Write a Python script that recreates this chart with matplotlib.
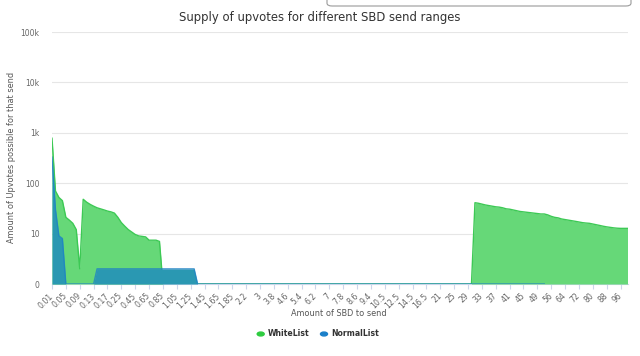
import numpy as np
import matplotlib
matplotlib.use("Agg")
from matplotlib import pyplot as plt
from matplotlib.patches import FancyBboxPatch


def seg(start, stop, step):
    vals = np.round(np.arange(start, stop + step / 2, step), 2)
    return ["%g" % v for v in vals]


# SBD send amounts (x categories), labels shown every 4th one
categories = (seg(0.01, 0.20, 0.01) + seg(0.25, 2.0, 0.05) + seg(2.2, 10.0, 0.2)
              + seg(10.5, 16.5, 0.5) + ["17.5", "18.5", "20"] + seg(21, 49, 1)
              + ["50", "52", "54"] + seg(56, 100, 2))

# upvotes possible per category
whitelist_head = [780, 70, 52, 45, 21, 18.5, 16, 12, 2, 48, 42, 38, 35, 32.5, 31, 29.5,
                  28, 27, 25.5, 21, 16.5, 14, 12, 10.7, 9.6, 9, 8.8, 8.6, 7.4, 7.4, 7.4,
                  7, 0]
whitelist_gap = [0] * 89
whitelist_tail = [41, 40, 38.5, 37, 36, 35, 34, 33.5, 32.5, 31, 30.5, 29.5, 28.5, 27.5,
                  27, 26.5, 26, 25.5, 25, 24.5, 24.5, 23.5, 22, 21, 20.5, 19.5, 19, 18.6,
                  18, 17.5, 17, 16.5, 16.2, 16, 15.5, 15, 14.5, 14, 13.6, 13.3, 13, 12.8,
                  12.7, 12.7, 12.7]
whitelist = whitelist_head + whitelist_gap + whitelist_tail

normallist = [330, 30, 9, 8] + [0] * 9 + [2] * 29 + [0] * 101

y_ticks = [0, 1, 2, 3, 4, 5]
y_labels = ["0", "10", "100", "1k", "10k", "100k"]

GREEN_FILL, GREEN_LINE = "#66d878", "#3dc955"
BLUE_FILL, BLUE_LINE = "#2a98b2", "#1f83c4"

plt.rcParams["font.family"] = ["DejaVu Sans"]

fig = plt.figure(figsize=(6.4, 3.56), dpi=100)
ax = fig.add_axes([52 / 640, 72 / 356, 575.5 / 640, 252 / 356])


def to_log(v):
    return np.log10(np.maximum(np.asarray(v, dtype=float), 1))


xw = np.arange(len(whitelist))
yw = to_log(whitelist)
ax.fill_between(xw, 0, yw, color=GREEN_FILL, lw=0, zorder=2)
ax.plot(xw, yw, color=GREEN_LINE, lw=1, zorder=3)

xn = np.arange(len(normallist))
yn = to_log(normallist)
ax.fill_between(xn, 0, yn, color=BLUE_FILL, lw=0, zorder=4)
ax.plot(xn, yn, color=BLUE_LINE, lw=1, zorder=5, alpha=0.8)

ax.set_xlim(0, len(categories) - 1)
ax.set_ylim(0, 5)

ax.set_yticks(y_ticks)
ax.set_yticklabels(y_labels, fontsize=5.5, color="#666666")
ax.tick_params(axis="y", length=0, pad=9)
ax.grid(axis="y", color="#e6e6e6", lw=0.8, zorder=0)

idx = np.arange(0, len(categories), 4)
ax.set_xticks(idx)
ax.set_xticklabels([categories[i] for i in idx], rotation=45, ha="right",
                   va="center", rotation_mode="anchor", fontsize=5.6, color="#666666")
ax.tick_params(axis="x", length=3.6, color="#ccd6eb", pad=4)

for s in ["top", "right", "left"]:
    ax.spines[s].set_visible(False)
ax.spines["bottom"].set_color("#ccd6eb")
ax.spines["bottom"].set_zorder(1)

fig.text(339 / 640, 1 - 314 / 356, "Amount of SBD to send", ha="center", va="center",
         fontsize=5.9, color="#555555")
fig.text(12 / 640, 1 - 157 / 356, "Amount of Upvotes possible for that send",
         ha="center", va="center", rotation=90, fontsize=5.9, color="#555555")

fig.text(0.5, 1 - 17 / 356, "Supply of upvotes for different SBD send ranges",
         ha="center", va="center", fontsize=8.4, color="#333333")

# legend
fig.patches.append(plt.Circle((260.7 / 640, 1 - 334 / 356), 3.5 / 640,
                              transform=fig.transFigure, color="#2ecc40", figure=fig))
fig.text(268 / 640, 1 - 334 / 356, "WhiteList", ha="left", va="center",
         fontsize=5.6, fontweight="bold", color="#333333")
fig.patches.append(plt.Circle((324 / 640, 1 - 334 / 356), 3.5 / 640,
                              transform=fig.transFigure, color="#1a7fc9", figure=fig))
fig.text(331.5 / 640, 1 - 334 / 356, "NormalList", ha="left", va="center",
         fontsize=5.6, fontweight="bold", color="#333333")

# search box edge cut off at the top of the screenshot
box = FancyBboxPatch((327 / 640, 1 - 6 / 356), 304 / 640, 20 / 356,
                     boxstyle="round,pad=0,rounding_size=0.008",
                     transform=fig.transFigure, facecolor="white",
                     edgecolor="#9a9a9a", lw=0.8, figure=fig)
fig.patches.append(box)

fig.savefig("out.png", dpi=100)
